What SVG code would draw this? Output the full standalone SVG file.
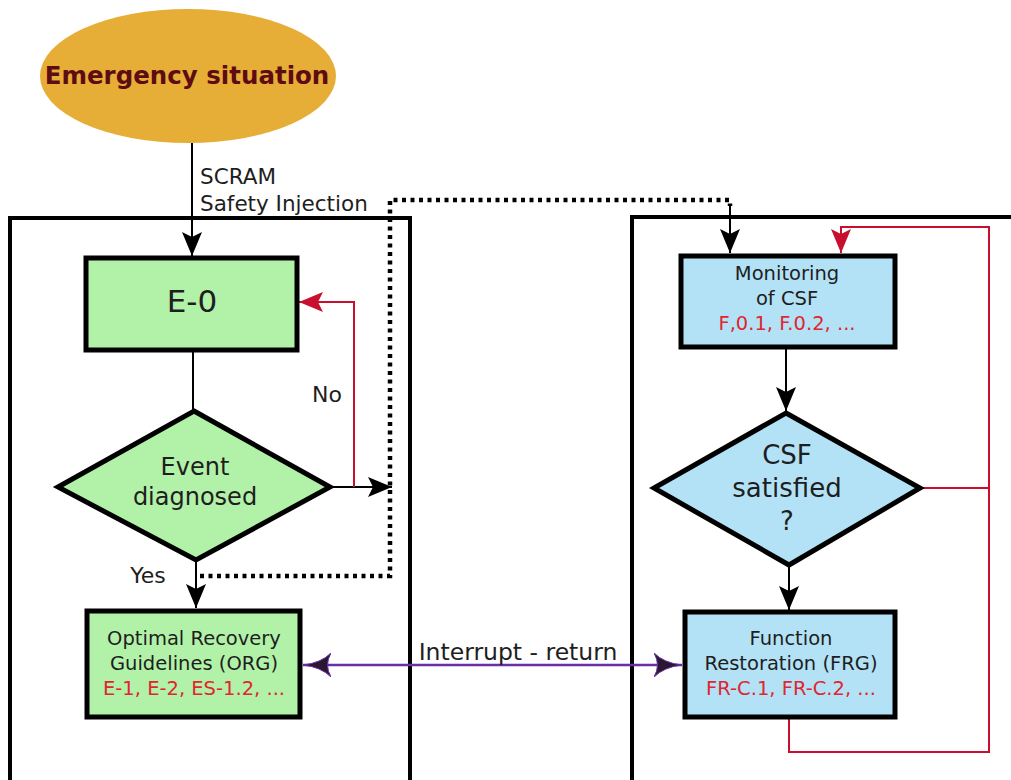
<svg xmlns="http://www.w3.org/2000/svg" width="1011" height="780" viewBox="0 0 1011 780">
  <style>
    .frame { fill: none; stroke: #000; stroke-width: 4; }
    .box-g { fill: #b2f2a8; stroke: #000; stroke-width: 5; }
    .box-b { fill: #b3e2f7; stroke: #000; stroke-width: 5; }
    .t { font-family: "DejaVu Sans", Verdana, sans-serif; fill: #1e1e1e; text-anchor: middle; }
    .l { text-anchor: start; }
    .red { fill: #e0262e; }
    .wire { fill: none; stroke: #000; stroke-width: 2; }
    .wire-red { fill: none; stroke: #c8102e; stroke-width: 2; }
    .dots { fill: none; stroke: #000; stroke-width: 4.5; stroke-dasharray: 4 4.5; }
    .wire-purple { fill: none; stroke: #6a2ea8; stroke-width: 2.5; }
  </style>
  <defs>
    <marker id="arrow" markerWidth="24" markerHeight="20" refX="24" refY="10" viewBox="0 0 24 20" markerUnits="userSpaceOnUse" orient="auto">
      <path d="M0,0 L24,10 L0,20 L5,10 z" fill="#000"/>
    </marker>
    <marker id="arrow-red" markerWidth="24" markerHeight="20" refX="24" refY="10" viewBox="0 0 24 20" markerUnits="userSpaceOnUse" orient="auto">
      <path d="M0,0 L24,10 L0,20 L5,10 z" fill="#c8102e"/>
    </marker>
    <marker id="stealth" markerWidth="28" markerHeight="24" refX="28" refY="12" viewBox="0 0 28 24" markerUnits="userSpaceOnUse" orient="auto-start-reverse">
      <path d="M0,0 Q10,10 28,12 Q10,14 0,24 Q7,12 0,0 z" fill="#2a1830" stroke="#6a2ea8" stroke-width="1"/>
    </marker>
  </defs>

  <!-- panels -->
  <rect class="frame" x="10" y="218" width="400" height="600"/>
  <rect class="frame" x="632" y="217" width="420" height="600"/>

  <!-- connectors -->
  <g id="connectors">
    <line class="wire" x1="192" y1="143" x2="192" y2="256" marker-end="url(#arrow)"/>
    <line class="wire" x1="193" y1="350" x2="193" y2="410"/>
    <line class="wire" x1="330" y1="487" x2="392" y2="487" marker-end="url(#arrow)"/>
    <polyline class="wire-red" points="354,487 354,302 299,302" marker-end="url(#arrow-red)"/>
    <line class="wire" x1="196" y1="560" x2="196" y2="608" marker-end="url(#arrow)"/>
    <polyline class="dots" points="200,576 390,576 390,200 730,200 730,206"/>
    <line class="wire" x1="730" y1="204" x2="730" y2="253" marker-end="url(#arrow)"/>
    <line class="wire" x1="786" y1="348" x2="786" y2="411" marker-end="url(#arrow)"/>
    <line class="wire" x1="789" y1="565" x2="789" y2="610" marker-end="url(#arrow)"/>
    <polyline class="wire-red" points="789,718 789,752 989,752 989,227 841,227 841,253" marker-end="url(#arrow-red)"/>
    <line class="wire-red" x1="920" y1="488" x2="989" y2="488"/>
    <line class="wire-purple" x1="303" y1="665" x2="682" y2="665" marker-start="url(#stealth)" marker-end="url(#stealth)"/>
    <text class="t l" x="200" y="184" font-size="21.5">SCRAM</text>
    <text class="t l" x="200" y="211" font-size="21.5">Safety Injection</text>
    <text class="t" x="327" y="402" font-size="22">No</text>
    <text class="t" x="148" y="583" font-size="22">Yes</text>
    <text class="t" x="518" y="660" font-size="23.5">Interrupt - return</text>
  </g>

  <!-- nodes -->
  <g id="emergency">
    <ellipse cx="188" cy="76" rx="148" ry="67" fill="#e6ae36"/>
    <text x="187" y="84" font-family="'DejaVu Sans', Verdana, sans-serif" font-weight="bold" font-size="24.5" fill="#5e0c12" text-anchor="middle">Emergency situation</text>
  </g>

  <g id="e0">
    <rect class="box-g" x="86" y="258" width="211" height="92"/>
    <text class="t" x="192" y="312" font-size="31">E-0</text>
  </g>

  <g id="event-diagnosed">
    <polygon class="box-g" points="194,411 330,487 196,560 58,487"/>
    <text class="t" x="195" y="475" font-size="24">Event</text>
    <text class="t" x="195" y="505" font-size="24">diagnosed</text>
  </g>

  <g id="org">
    <rect class="box-g" x="87" y="611" width="213" height="106"/>
    <text class="t" x="194" y="645" font-size="19.5">Optimal Recovery</text>
    <text class="t" x="194" y="670" font-size="19.5">Guidelines (ORG)</text>
    <text class="t red" x="194" y="695" font-size="19.5">E-1, E-2, ES-1.2, ...</text>
  </g>

  <g id="monitoring">
    <rect class="box-b" x="681" y="256" width="214" height="91"/>
    <text class="t" x="787" y="280" font-size="19.5">Monitoring</text>
    <text class="t" x="787" y="305" font-size="19.5">of CSF</text>
    <text class="t red" x="787" y="330" font-size="19.5">F,0.1, F.0.2, ...</text>
  </g>

  <g id="csf-satisfied">
    <polygon class="box-b" points="786,413 920,488 789,565 654,488"/>
    <text class="t" x="787" y="464" font-size="26">CSF</text>
    <text class="t" x="787" y="497" font-size="26">satisfied</text>
    <text class="t" x="787" y="530" font-size="26">?</text>
  </g>

  <g id="frg">
    <rect class="box-b" x="685" y="612" width="210" height="105"/>
    <text class="t" x="791" y="645" font-size="19.5">Function</text>
    <text class="t" x="791" y="670" font-size="19.5">Restoration (FRG)</text>
    <text class="t red" x="791" y="695" font-size="19.5">FR-C.1, FR-C.2, ...</text>
  </g>
</svg>
